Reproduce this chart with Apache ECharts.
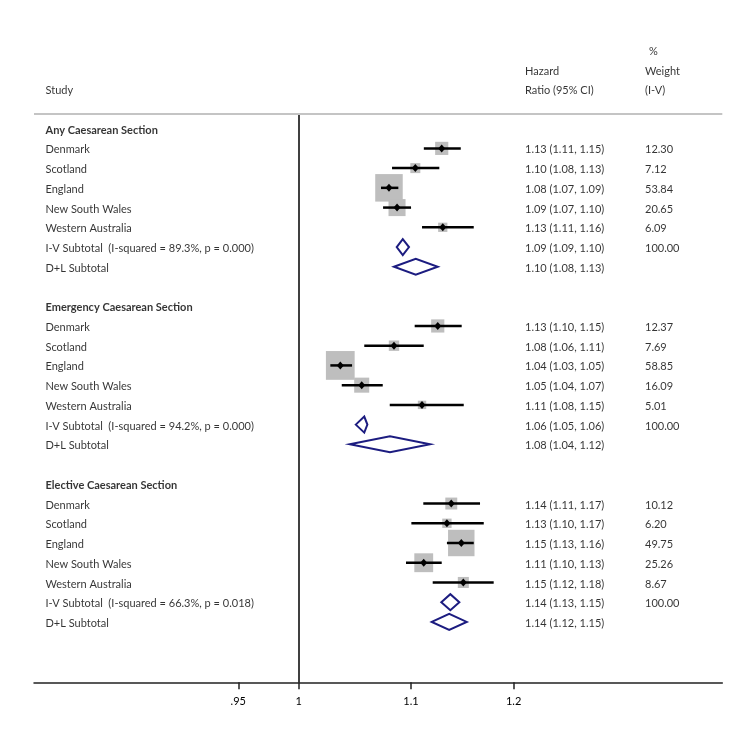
<!DOCTYPE html>
<html>
<head>
<meta charset="utf-8">
<script src="https://cdn.jsdelivr.net/npm/echarts@6/dist/echarts.min.js"></script>
<style>html,body{margin:0;padding:0;background:#fff}#c{width:749px;height:747px}</style>
</head>
<body>
<div id="c"></div>
<script>
// ---------------- data ----------------
const groups = ['Any Caesarean Section', 'Emergency Caesarean Section', 'Elective Caesarean Section'];
const studies = ['Denmark', 'Scotland', 'England', 'New South Wales', 'Western Australia'];

const anyHR = [1.129, 1.104, 1.0796, 1.087, 1.130];
const anyLo = [1.112, 1.0824, 1.0723, 1.0742, 1.1103];
const anyHi = [1.1474, 1.1267, 1.0882, 1.100, 1.1601];
const anyW  = [12.30, 7.12, 53.84, 20.65, 6.09];
const anyIV = [1.0923, 1.0867, 1.0981];
const anyDL = [1.1044, 1.0842, 1.1252];
const anyHet = ['89.3%', '0.000'];

const emgHR = [1.1252, 1.0842, 1.0359, 1.0549, 1.1103];
const emgLo = [1.1034, 1.0572, 1.0272, 1.0372, 1.0803];
const emgHi = [1.1483, 1.1119, 1.0463, 1.0739, 1.1503];
const emgW  = [12.37, 7.69, 58.85, 16.09, 5.01];
const emgIV = [1.0572, 1.0496, 1.0600];
const emgDL = [1.0805, 1.0443, 1.1179];
const emgHet = ['94.2%', '0.000'];

const eleHR = [1.1382, 1.134, 1.1479, 1.1119, 1.1499];
const eleLo = [1.1115, 1.1003, 1.134, 1.0953, 1.1204];
const eleHi = [1.1663, 1.1700, 1.1601, 1.129, 1.1799];
const eleW  = [10.12, 6.20, 49.75, 25.26, 8.67];
const eleIV = [1.1373, 1.1286, 1.146];
const eleDL = [1.1362, 1.1195, 1.1532];
const eleHet = ['66.3%', '0.018'];

const subtotalWeight = 100;
const tickValues = [0.95, 1, 1.1, 1.2];
const tickLabels = ['.95', '1', '1.1', '1.2'];
const headStudy = ['Study'];
const headHR = ['Hazard', 'Ratio (95% CI)'];
const headW = ['%', 'Weight', '(I-V)'];

// ---------------- layout ----------------
const FONT = 'Lato';
const FS = 11;
const X_MIN = -0.2246, X_MAX = 0.3594;   // ln(HR) extent of axis
const Y_MIN = -5, Y_MAX = 28.06;         // row units
const RULE_ROW = -0.77;
const COL_STUDY = 45.5, COL_HR = 525, COL_W = 645, COL_PCT = 649; // layout axis units
const GROUP_STEP = 9;
const TEXT_DY = 1.5;

const sets = [
  [anyHR, anyLo, anyHi, anyW, anyIV, anyDL, anyHet],
  [emgHR, emgLo, emgHi, emgW, emgIV, emgDL, emgHet],
  [eleHR, eleLo, eleHi, eleW, eleIV, eleDL, eleHet]
];

const f2 = v => v.toFixed(2);
const ciText = (e, l, h) => f2(e) + ' (' + f2(l) + ', ' + f2(h) + ')';

const studyData = [];
const diamondData = [];
const texts = [];

texts.push({ value: [COL_STUDY, -2], name: headStudy[0] });
texts.push({ value: [COL_HR, -3], name: headHR[0] });
texts.push({ value: [COL_HR, -2], name: headHR[1] });
texts.push({ value: [COL_PCT, -4], name: headW[0] });
texts.push({ value: [COL_W, -3], name: headW[1] });
texts.push({ value: [COL_W, -2], name: headW[2] });

sets.forEach((s, g) => {
  const [hr, lo, hi, w, iv, dl, het] = s;
  const base = g * GROUP_STEP;
  texts.push({ value: [COL_STUDY, base], name: groups[g], label: { fontWeight: 'bold' } });
  studies.forEach((st, i) => {
    const row = base + 1 + i;
    studyData.push([Math.log(hr[i]), Math.log(lo[i]), Math.log(hi[i]), row, w[i]]);
    texts.push({ value: [COL_STUDY, row], name: st });
    texts.push({ value: [COL_HR, row], name: ciText(hr[i], lo[i], hi[i]) });
    texts.push({ value: [COL_W, row], name: f2(w[i]) });
  });
  const ivRow = base + 6, dlRow = base + 7;
  diamondData.push([Math.log(iv[0]), Math.log(iv[1]), Math.log(iv[2]), ivRow]);
  diamondData.push([Math.log(dl[0]), Math.log(dl[1]), Math.log(dl[2]), dlRow]);
  texts.push({ value: [COL_STUDY, ivRow], name: 'I-V Subtotal  (I-squared = ' + het[0] + ', p = ' + het[1] + ')' });
  texts.push({ value: [COL_HR, ivRow], name: ciText(iv[0], iv[1], iv[2]) });
  texts.push({ value: [COL_W, ivRow], name: f2(subtotalWeight) });
  texts.push({ value: [COL_STUDY, dlRow], name: 'D+L Subtotal' });
  texts.push({ value: [COL_HR, dlRow], name: ciText(dl[0], dl[1], dl[2]) });
});

const lnTicks = tickValues.map(v => Math.log(v));

const chart = echarts.init(document.getElementById('c'), null, { renderer: 'canvas' });
chart.setOption({
  backgroundColor: '#fff',
  animation: false,
  grid: { left: 34, right: 26.7, top: 30, bottom: 64.7, containLabel: false, outerBoundsMode: 'none' },
  xAxis: [
    {
      type: 'value', min: X_MIN, max: X_MAX,
      axisLine: { show: true, onZero: false, lineStyle: { color: '#222', width: 1.5 } },
      axisTick: { show: true, customValues: lnTicks, length: 7, lineStyle: { color: '#222', width: 1.5 } },
      axisLabel: {
        show: true, customValues: lnTicks, margin: 14,
        fontFamily: FONT, fontSize: FS, color: '#000',
        formatter: v => {
          let best = 0;
          lnTicks.forEach((t, i) => { if (Math.abs(t - v) < Math.abs(lnTicks[best] - v)) best = i; });
          return tickLabels[best];
        }
      },
      splitLine: { show: false }
    },
    { type: 'value', min: 34, max: 722.3, show: false }
  ],
  yAxis: { type: 'value', inverse: true, min: Y_MIN, max: Y_MAX, show: false },
  series: [
    {
      type: 'custom', name: 'studies', xAxisIndex: 0, clip: false,
      data: studyData,
      renderItem: (params, api) => {
        const row = api.value(3);
        const c = api.coord([api.value(0), row]);
        const l = api.coord([api.value(1), row]);
        const h = api.coord([api.value(2), row]);
        const s = 3.75 * Math.sqrt(api.value(4));
        return {
          type: 'group',
          children: [
            { type: 'rect', shape: { x: c[0] - s / 2, y: c[1] - s / 2, width: s, height: s }, style: { fill: '#bebebe' } },
            { type: 'line', shape: { x1: l[0], y1: c[1], x2: h[0], y2: c[1] }, style: { stroke: '#000', lineWidth: 2.5 } },
            { type: 'polygon', shape: { points: [[c[0] - 3.5, c[1]], [c[0], c[1] - 4], [c[0] + 3.5, c[1]], [c[0], c[1] + 4]] }, style: { fill: '#000' } }
          ]
        };
      },
      markLine: {
        silent: true, symbol: 'none', label: { show: false }, animation: false,
        data: [
          [{ coord: [0, RULE_ROW], lineStyle: { color: '#000', width: 1.5, type: 'solid' } }, { coord: [0, Y_MAX] }]
        ]
      }
    },
    {
      type: 'custom', name: 'subtotals', xAxisIndex: 0, clip: false,
      data: diamondData,
      renderItem: (params, api) => {
        const row = api.value(3);
        const c = api.coord([api.value(0), row]);
        const l = api.coord([api.value(1), row]);
        const h = api.coord([api.value(2), row]);
        const hh = 8;
        return {
          type: 'polygon',
          shape: { points: [[l[0], c[1]], [c[0], c[1] - hh], [h[0], c[1]], [c[0], c[1] + hh]] },
          style: { fill: 'none', stroke: '#1c1c80', lineWidth: 2 }
        };
      },
      markLine: {
        silent: true, symbol: 'none', label: { show: false }, animation: false,
        data: [{ yAxis: RULE_ROW, lineStyle: { color: '#c4c4c4', width: 2, type: 'solid' } }]
      }
    },
    {
      type: 'scatter', name: 'text', xAxisIndex: 1, symbolSize: 0, silent: true, clip: false,
      data: texts,
      label: {
        show: true, position: 'right', distance: 0, offset: [0, TEXT_DY],
        formatter: p => p.name,
        fontFamily: FONT, fontSize: FS, color: '#000', align: 'left', verticalAlign: 'middle'
      }
    }
  ]
});
</script>
</body>
</html>
